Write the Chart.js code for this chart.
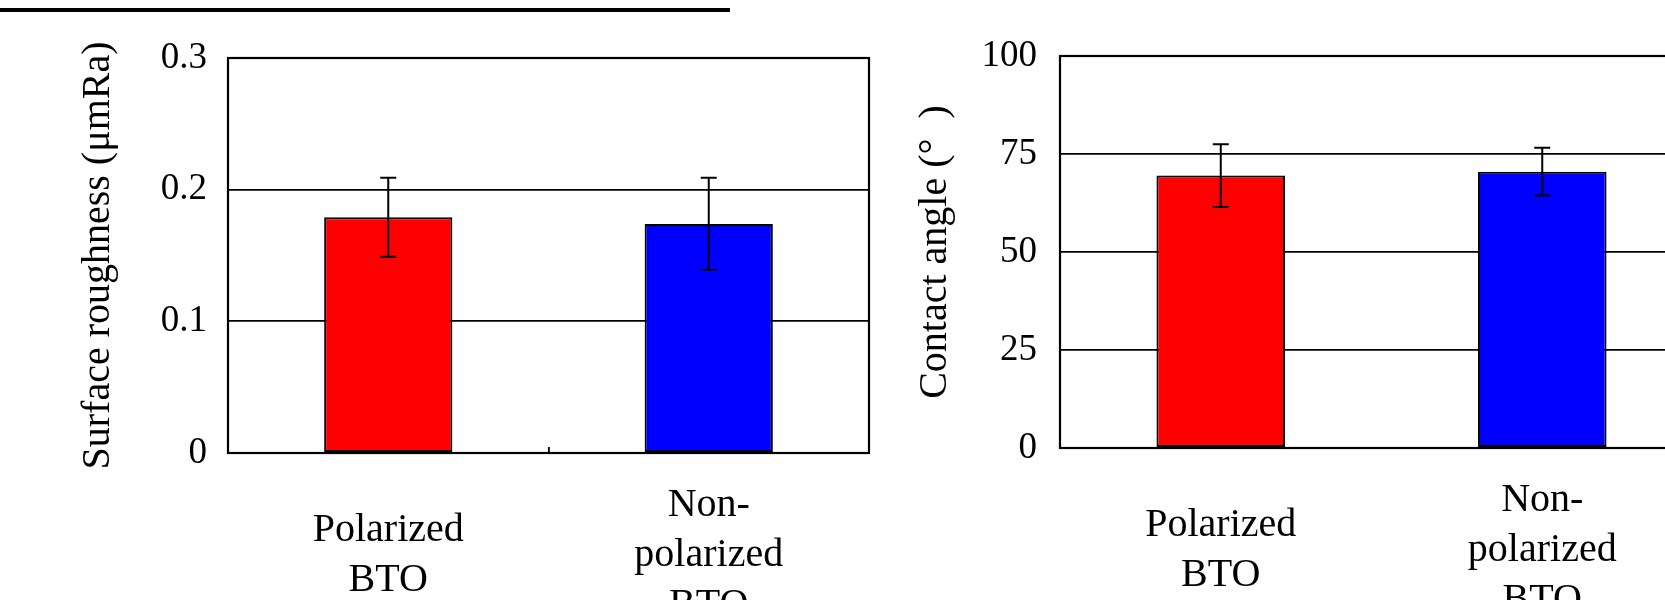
<!DOCTYPE html>
<html>
<head>
<meta charset="utf-8">
<script src="https://cdn.jsdelivr.net/npm/chart.js@4/dist/chart.umd.min.js"></script>
<style>
  html, body { margin: 0; padding: 0; background: #fff; }
  #wrap { position: relative; width: 1665px; height: 600px; overflow: hidden; }
  #topRule { position: absolute; left: 0; top: 8px; width: 730px; height: 4px; background: #000; }
  #roughChart { position: absolute; left: 0; top: 0; }
  #angleChart { position: absolute; left: 880px; top: 0; }
</style>
</head>
<body>
<div id="wrap">
  <div id="topRule"></div>
  <canvas id="roughChart" width="880" height="600"></canvas>
  <canvas id="angleChart" width="900" height="600"></canvas>
</div>
<script>
// data
const categories = [['Polarized', 'BTO'], ['Non-', 'polarized', 'BTO']];
const barColors = ['#ff0000', '#0000ff'];

const roughnessValues = [0.179, 0.174];
const roughnessErrors = [0.030, 0.035];
const roughnessTicks = [0, 0.1, 0.2, 0.3];

const angleValues = [69.5, 70.5];
const angleErrors = [8.0, 6.1];
const angleTicks = [0, 25, 50, 75, 100];

Chart.defaults.font.family = "'Liberation Serif', 'Times New Roman', serif";
Chart.defaults.color = '#000';

// error bars drawn from the y scale
const errorBars = {
  id: 'errorBars',
  afterDatasetsDraw(chart, args, opts) {
    const ctx = chart.ctx;
    const yScale = chart.scales.y;
    const values = chart.data.datasets[0].data;
    ctx.save();
    ctx.strokeStyle = '#000';
    ctx.lineWidth = 2;
    chart.getDatasetMeta(0).data.forEach((bar, i) => {
      const top = yScale.getPixelForValue(values[i] + opts.errors[i]);
      const bottom = yScale.getPixelForValue(values[i] - opts.errors[i]);
      ctx.beginPath();
      ctx.moveTo(bar.x, top);
      ctx.lineTo(bar.x, bottom);
      ctx.moveTo(bar.x - 8, top);
      ctx.lineTo(bar.x + 8, top);
      ctx.moveTo(bar.x - 8, bottom);
      ctx.lineTo(bar.x + 8, bottom);
      ctx.stroke();
    });
    ctx.restore();
  }
};

// box around the plot area
const plotFrame = {
  id: 'plotFrame',
  afterDatasetsDraw(chart) {
    const { ctx, chartArea } = chart;
    ctx.save();
    ctx.strokeStyle = '#000';
    ctx.lineWidth = 2.2;
    ctx.strokeRect(chartArea.left, chartArea.top, chartArea.right - chartArea.left, chartArea.bottom - chartArea.top);
    ctx.restore();
  }
};

function buildChart(id, values, errors, ticks, title, box) {
  return new Chart(document.getElementById(id), {
    type: 'bar',
    data: {
      labels: categories,
      datasets: [{
        data: values,
        backgroundColor: barColors,
        borderColor: '#000',
        borderWidth: 2,
        borderSkipped: false,
        barPercentage: 0.4,
        categoryPercentage: 1
      }]
    },
    options: {
      responsive: false,
      animation: false,
      layout: { padding: { left: 0, top: box.top, right: box.right, bottom: 0 } },
      plugins: {
        legend: { display: false },
        tooltip: { enabled: false },
        errorBars: { errors: errors }
      },
      scales: {
        x: {
          afterFit: s => { s.height = box.xHeight; },
          border: { display: false },
          grid: {
            display: box.innerTick,
            drawOnChartArea: false,
            tickLength: -6,
            color: '#000',
            lineWidth: 1.8
          },
          ticks: {
            maxRotation: 0,
            autoSkip: false,
            crossAlign: 'center',
            padding: 58,
            font: { size: 40, lineHeight: 1.25 }
          }
        },
        y: {
          min: ticks[0],
          max: ticks[ticks.length - 1],
          afterFit: s => { s.width = box.yWidth; },
          afterBuildTicks: s => { s.ticks = ticks.map(v => ({ value: v })); },
          border: { display: false },
          grid: { color: '#000', lineWidth: 1.8, drawTicks: false },
          ticks: { padding: box.tickPad, font: { size: 37 } },
          title: {
            display: true,
            text: title,
            padding: { top: box.titlePad, bottom: 0 },
            font: { size: 40, lineHeight: 1.2 }
          }
        }
      }
    },
    plugins: [errorBars, plotFrame]
  });
}

buildChart('roughChart', roughnessValues, roughnessErrors, roughnessTicks,
  'Surface roughness (\u03bcmRa)',
  { top: 58, right: 11, xHeight: 147, yWidth: 228, tickPad: 21, titlePad: 74, innerTick: true });

buildChart('angleChart', angleValues, angleErrors, angleTicks,
  'Contact angle (\u00b0\u2002)',
  { top: 56, right: 77, xHeight: 152, yWidth: 180, tickPad: 23, titlePad: 31, innerTick: false });
</script>
</body>
</html>
